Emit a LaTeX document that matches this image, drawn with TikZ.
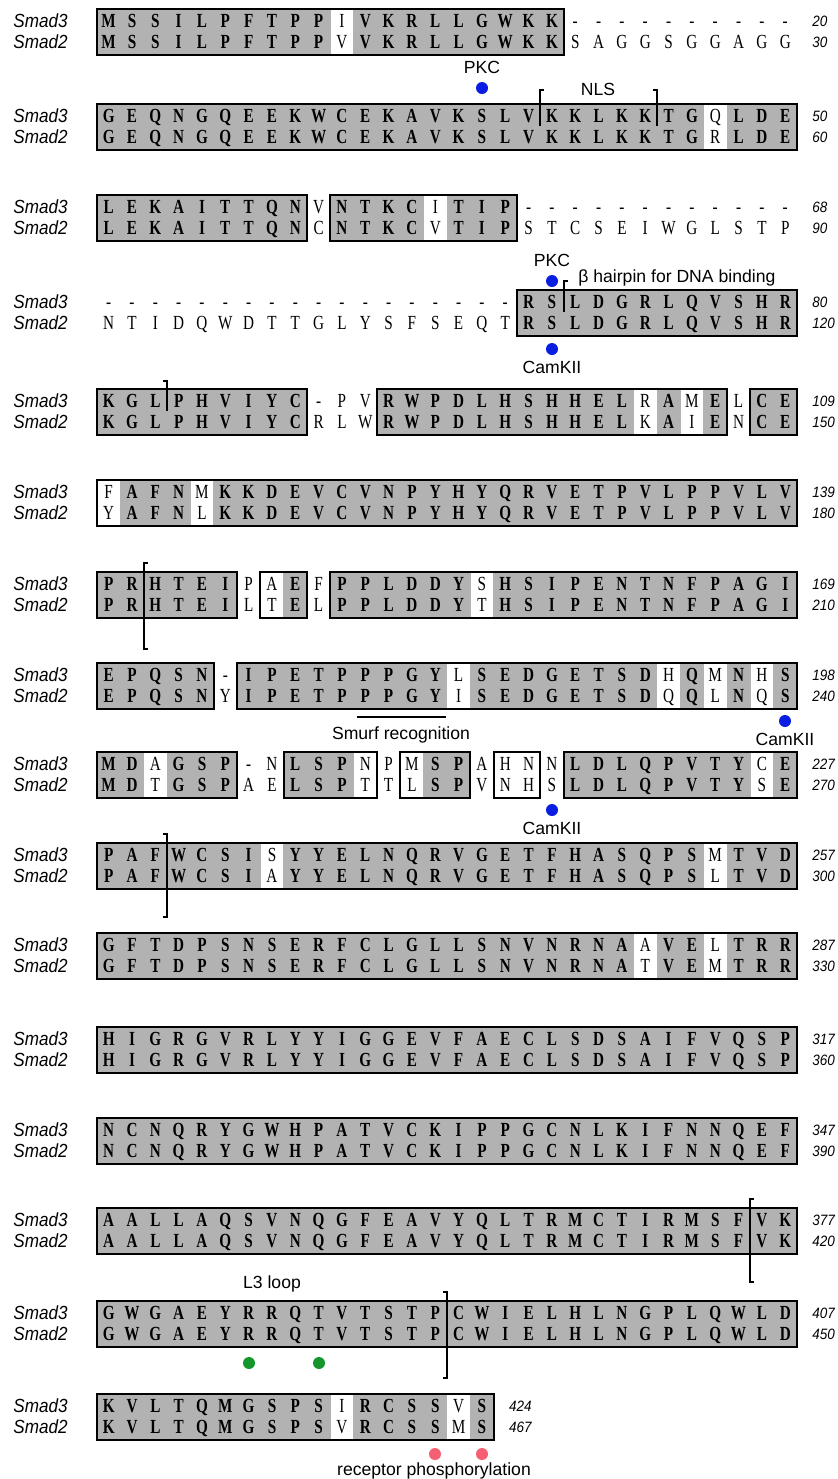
\documentclass[tikz,border=0pt]{standalone}
\usepackage{fontspec}
\setmainfont{Liberation Serif}
\newfontfamily\resfont[FakeStretch=0.76]{Liberation Serif}
\newfontfamily\labfont{Liberation Sans}
\newfontfamily\rowfont[FakeStretch=0.9]{Liberation Sans}
\usepackage{xcolor}
\usepackage{tikz}

\definecolor{consgray}{RGB}{178,178,178}
\definecolor{pkcblue}{RGB}{10,30,225}
\definecolor{loopgreen}{RGB}{20,150,45}
\definecolor{recpink}{RGB}{245,95,115}

\def\xo{97}
\def\colw{23.33}

\tikzset{
  resb/.style={font=\resfont\fontsize{10}{10}\bfseries\selectfont, inner sep=0pt, text height=6.6pt, text depth=0pt},
  resn/.style={font=\resfont\fontsize{10}{10}\selectfont, inner sep=0pt, text height=6.6pt, text depth=0pt},
  consfill/.style={fill=consgray},
  blockbox/.style={draw=black, line width=0.9pt},
  rowlab/.style={font=\rowfont\itshape\fontsize{9.5}{9.5}\selectfont, anchor=west, inner sep=0pt},
  numlab/.style={font=\rowfont\itshape\fontsize{7.5}{7.5}\selectfont, anchor=west, inner sep=0pt},
  annot/.style={font=\labfont\fontsize{8.8}{8.8}\selectfont, inner sep=0pt},
  site/.style={circle, inner sep=0pt, minimum size=6pt},
  domainmark/.style={line width=0.6pt},
}

% one alignment block: id, y of Smad3 row, columns, pairs, boxes, end numbers
\newcommand{\alignblock}[7]{%
  \node[rowlab] (lab3-#1) at (13,#2) {Smad3};
  \node[rowlab] (lab2-#1) at (13,#2+21) {Smad2};
  \foreach \p/\q [count=\i] in {#4} {
    \pgfmathsetmacro{\cx}{\xo+(\i-0.5)*\colw}
    \ifx\p\q
      \fill[consfill] (\cx-\colw/2-0.3,#2-12) rectangle (\cx+\colw/2+0.3,#2+34);
      \node[resb] (s3-#1-\i) at (\cx,#2) {\p};
      \node[resb] (s2-#1-\i) at (\cx,#2+21) {\q};
    \else
      \node[resn] (s3-#1-\i) at (\cx,#2) {\p};
      \node[resn] (s2-#1-\i) at (\cx,#2+21) {\q};
    \fi
  }
  \foreach \s/\e in {#5}
    \draw[blockbox] (\xo+\s*\colw-\colw,#2-12) rectangle (\xo+\e*\colw,#2+34);
  \node[numlab] (n3-#1) at (\xo+#3*\colw+15,#2) {#6};
  \node[numlab] (n2-#1) at (\xo+#3*\colw+15,#2+21) {#7};
}

\begin{document}
\begin{tikzpicture}[x=0.5pt,y=-0.5pt]
\useasboundingbox (0,0) rectangle (837,1479);

% Block 1
\alignblock{1}{21}{30}{M/M,S/S,S/S,I/I,L/L,P/P,F/F,T/T,P/P,P/P,I/V,V/V,K/K,R/R,L/L,L/L,G/G,W/W,K/K,K/K,-/S,-/A,-/G,-/G,-/S,-/G,-/G,-/A,-/G,-/G}{1/20}{20}{30}
% Block 2
\alignblock{2}{116}{30}{G/G,E/E,Q/Q,N/N,G/G,Q/Q,E/E,E/E,K/K,W/W,C/C,E/E,K/K,A/A,V/V,K/K,S/S,L/L,V/V,K/K,K/K,L/L,K/K,K/K,T/T,G/G,Q/R,L/L,D/D,E/E}{1/30}{50}{60}
% Block 3
\alignblock{3}{207}{30}{L/L,E/E,K/K,A/A,I/I,T/T,T/T,Q/Q,N/N,V/C,N/N,T/T,K/K,C/C,I/V,T/T,I/I,P/P,-/S,-/T,-/C,-/S,-/E,-/I,-/W,-/G,-/L,-/S,-/T,-/P}{1/9,11/18}{68}{90}
% Block 4
\alignblock{4}{302}{30}{-/N,-/T,-/I,-/D,-/Q,-/W,-/D,-/T,-/T,-/G,-/L,-/Y,-/S,-/F,-/S,-/E,-/Q,-/T,R/R,S/S,L/L,D/D,G/G,R/R,L/L,Q/Q,V/V,S/S,H/H,R/R}{19/30}{80}{120}
% Block 5
\alignblock{5}{401}{30}{K/K,G/G,L/L,P/P,H/H,V/V,I/I,Y/Y,C/C,-/R,P/L,V/W,R/R,W/W,P/P,D/D,L/L,H/H,S/S,H/H,H/H,E/E,L/L,R/K,A/A,M/I,E/E,L/N,C/C,E/E}{1/9,13/27,29/30}{109}{150}
% Block 6
\alignblock{6}{492}{30}{F/Y,A/A,F/F,N/N,M/L,K/K,K/K,D/D,E/E,V/V,C/C,V/V,N/N,P/P,Y/Y,H/H,Y/Y,Q/Q,R/R,V/V,E/E,T/T,P/P,V/V,L/L,P/P,P/P,V/V,L/L,V/V}{1/30}{139}{180}
% Block 7
\alignblock{7}{584}{30}{P/P,R/R,H/H,T/T,E/E,I/I,P/L,A/T,E/E,F/L,P/P,P/P,L/L,D/D,D/D,Y/Y,S/T,H/H,S/S,I/I,P/P,E/E,N/N,T/T,N/N,F/F,P/P,A/A,G/G,I/I}{1/6,8/9,11/30}{169}{210}
% Block 8
\alignblock{8}{675}{30}{E/E,P/P,Q/Q,S/S,N/N,-/Y,I/I,P/P,E/E,T/T,P/P,P/P,P/P,G/G,Y/Y,L/I,S/S,E/E,D/D,G/G,E/E,T/T,S/S,D/D,H/Q,Q/Q,M/L,N/N,H/Q,S/S}{1/5,7/30}{198}{240}
% Block 9
\alignblock{9}{764}{30}{M/M,D/D,A/T,G/G,S/S,P/P,-/A,N/E,L/L,S/S,P/P,N/T,P/T,M/L,S/S,P/P,A/V,H/N,N/H,N/S,L/L,D/D,L/L,Q/Q,P/P,V/V,T/T,Y/Y,C/S,E/E}{1/6,9/12,14/16,18/19,21/30}{227}{270}
% Block 10
\alignblock{10}{855}{30}{P/P,A/A,F/F,W/W,C/C,S/S,I/I,S/A,Y/Y,Y/Y,E/E,L/L,N/N,Q/Q,R/R,V/V,G/G,E/E,T/T,F/F,H/H,A/A,S/S,Q/Q,P/P,S/S,M/L,T/T,V/V,D/D}{1/30}{257}{300}
% Block 11
\alignblock{11}{945}{30}{G/G,F/F,T/T,D/D,P/P,S/S,N/N,S/S,E/E,R/R,F/F,C/C,L/L,G/G,L/L,L/L,S/S,N/N,V/V,N/N,R/R,N/N,A/A,A/T,V/V,E/E,L/M,T/T,R/R,R/R}{1/30}{287}{330}
% Block 12
\alignblock{12}{1039}{30}{H/H,I/I,G/G,R/R,G/G,V/V,R/R,L/L,Y/Y,Y/Y,I/I,G/G,G/G,E/E,V/V,F/F,A/A,E/E,C/C,L/L,S/S,D/D,S/S,A/A,I/I,F/F,V/V,Q/Q,S/S,P/P}{1/30}{317}{360}
% Block 13
\alignblock{13}{1130}{30}{N/N,C/C,N/N,Q/Q,R/R,Y/Y,G/G,W/W,H/H,P/P,A/A,T/T,V/V,C/C,K/K,I/I,P/P,P/P,G/G,C/C,N/N,L/L,K/K,I/I,F/F,N/N,N/N,Q/Q,E/E,F/F}{1/30}{347}{390}
% Block 14
\alignblock{14}{1220}{30}{A/A,A/A,L/L,L/L,A/A,Q/Q,S/S,V/V,N/N,Q/Q,G/G,F/F,E/E,A/A,V/V,Y/Y,Q/Q,L/L,T/T,R/R,M/M,C/C,T/T,I/I,R/R,M/M,S/S,F/F,V/V,K/K}{1/30}{377}{420}
% Block 15
\alignblock{15}{1313}{30}{G/G,W/W,G/G,A/A,E/E,Y/Y,R/R,R/R,Q/Q,T/T,V/V,T/T,S/S,T/T,P/P,C/C,W/W,I/I,E/E,L/L,H/H,L/L,N/N,G/G,P/P,L/L,Q/Q,W/W,L/L,D/D}{1/30}{407}{450}
% Block 16
\alignblock{16}{1406}{17}{K/K,V/V,L/L,T/T,Q/Q,M/M,G/G,S/S,P/P,S/S,I/V,R/R,C/C,S/S,S/S,V/M,S/S}{1/17}{424}{467}

% domain borders
\draw[domainmark] (544,90) -- (540,90) -- (540,126);
\draw[domainmark] (653,90) -- (657,90) -- (657,126);
\draw[domainmark] (568,281) -- (564,281) -- (564,312);
\draw[domainmark] (163,381) -- (167,381) -- (167,411);
\draw[domainmark] (148,563) -- (144,563) -- (144,649) -- (148,649);
\draw[domainmark] (163,834) -- (167,834) -- (167,917) -- (163,917);
\draw[domainmark] (754,1199) -- (750,1199) -- (750,1282) -- (754,1282);
\draw[domainmark] (443,1292) -- (447,1292) -- (447,1378) -- (443,1378);
\draw[domainmark] (357,717) -- (446,717);

% sites
\node[site, fill=pkcblue] (pkc1) at (482,88) {};
\node[site, fill=pkcblue] (pkc2) at (552,281) {};
\node[site, fill=pkcblue] (cam1) at (552,349) {};
\node[site, fill=pkcblue] (cam2) at (785,721) {};
\node[site, fill=pkcblue] (cam3) at (552,810) {};
\node[site, fill=loopgreen] (l3a) at (249,1363) {};
\node[site, fill=loopgreen] (l3b) at (319,1363) {};
\node[site, fill=recpink] (rec1) at (435,1454) {};
\node[site, fill=recpink] (rec2) at (482,1454) {};

% Text Node
\node[annot] (pkclab1) at (482,67) {PKC};
\node[annot] (nlslab) at (598,89) {NLS};
\node[annot] (pkclab2) at (552,260) {PKC};
\node[annot, anchor=west] (hairlab) at (578,278) {β hairpin for DNA binding};
\node[annot] (camlab1) at (552,367) {CamKII};
\node[annot] (smurflab) at (401,735) {Smurf recognition};
\node[annot] (camlab2) at (785,739) {CamKII};
\node[annot] (camlab3) at (552,828) {CamKII};
\node[annot] (l3lab) at (272,1284) {L3 loop};
\node[annot] (reclab) at (434,1471) {receptor phosphorylation};
\end{tikzpicture}
\end{document}
